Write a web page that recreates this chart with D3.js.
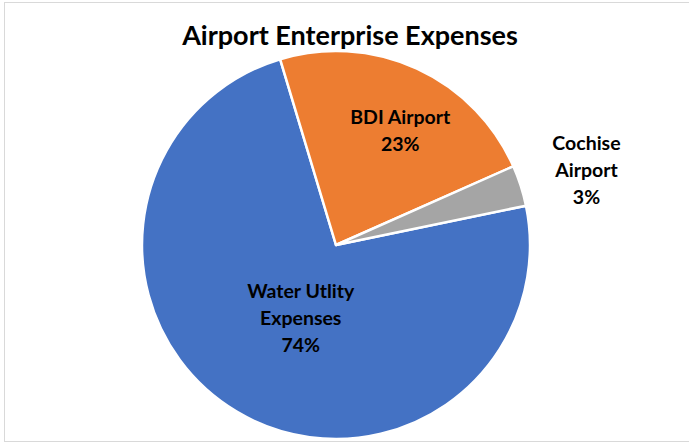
<!DOCTYPE html>
<html>
<head>
<meta charset="utf-8">
<script src="https://cdn.jsdelivr.net/npm/d3@7"></script>
<style>
  html, body { margin: 0; padding: 0; background: #fff; }
  svg { display: block; }
  .label { font-family: Lato, "Open Sans", sans-serif; font-weight: bold; font-size: 19.5px; fill: #000; }
</style>
</head>
<body>
<div id="chart"></div>
<script>
// slice data, in drawing order (clockwise)
const categories = ['Water Utlity Expenses', 'BDI Airport', 'Cochise Airport'];
const values = [73.6, 23.0, 3.4];
const labelLines = [['Water Utlity', 'Expenses'], ['BDI Airport'], ['Cochise', 'Airport']];
const colors = ['#4472c4', '#ed7d31', '#a5a5a5'];

const W = 689, H = 443;
const cx = 336, cy = 245, R = 194;

const svg = d3.select('#chart').append('svg')
  .attr('width', W)
  .attr('height', H);

// chart area border
svg.append('rect')
  .attr('x', 4.5).attr('y', 2.5)
  .attr('width', W).attr('height', H - 4)
  .attr('fill', '#fff')
  .attr('stroke', '#d9d9d9');

svg.append('text')
  .attr('x', 350)
  .attr('y', 45)
  .attr('text-anchor', 'middle')
  .style('font-family', 'Lato, "Open Sans", sans-serif')
  .style('font-weight', 'bold')
  .style('font-size', '27px')
  .text('Airport Enterprise Expenses');

const startDeg = 78.3;
const pie = d3.pie().sort(null).value(d => d)
  .startAngle(startDeg * Math.PI / 180)
  .endAngle((startDeg + 360) * Math.PI / 180);

const arcs = pie(values);
const arc = d3.arc().innerRadius(0).outerRadius(R);

const g = svg.append('g').attr('transform', `translate(${cx},${cy})`);

g.selectAll('path')
  .data(arcs)
  .join('path')
  .attr('d', arc)
  .attr('fill', (d, i) => colors[i])
  .attr('stroke', '#fff')
  .attr('stroke-width', 2.5)
  .attr('stroke-linejoin', 'round');

// label anchor (centre of each text block) as a fraction of the radius,
// plus a small pixel nudge like Excel's manual label placement
const labelRadius = [0.436, 0.72, 1.34];
const labelNudge = [[8, 1], [6, 13], [3, 5]];
const lineH = 27;

arcs.forEach((d, i) => {
  const a = (d.startAngle + d.endAngle) / 2;
  const r = R * labelRadius[i];
  const x = r * Math.sin(a) + labelNudge[i][0];
  const y = -r * Math.cos(a) + labelNudge[i][1];
  const lines = [...labelLines[i], Math.round(values[i]) + '%'];
  const t = g.append('text')
    .attr('class', 'label')
    .attr('text-anchor', 'middle');
  lines.forEach((s, k) => {
    t.append('tspan')
      .attr('x', x)
      .attr('y', y + (k - (lines.length - 1) / 2) * lineH)
      .attr('dy', '0.35em')
      .text(s);
  });
});
</script>
</body>
</html>
